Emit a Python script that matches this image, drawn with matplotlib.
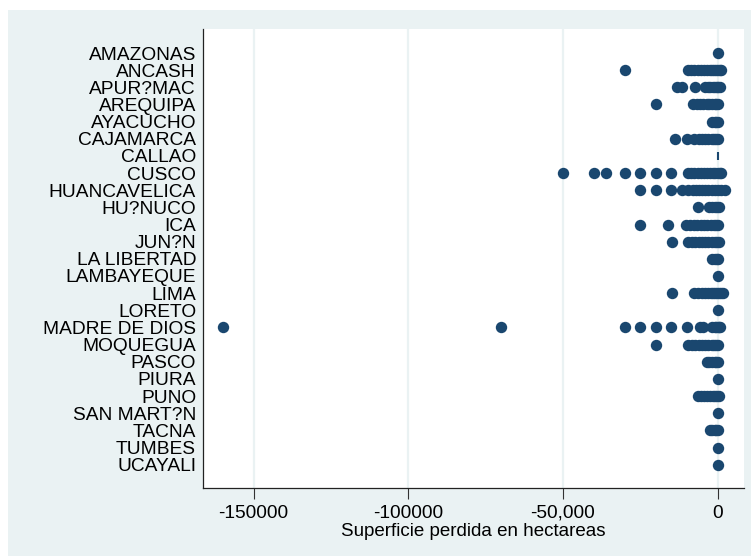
import matplotlib
matplotlib.use("Agg")
import matplotlib.pyplot as plt
from matplotlib.patches import Rectangle

plt.rcParams['font.family'] = ['Liberation Sans', 'DejaVu Sans']

# ----------- data (hectares lost per record) ---------------#
regions = ['AMAZONAS', 'ANCASH', 'APUR?MAC', 'AREQUIPA', 'AYACUCHO', 'CAJAMARCA',
           'CALLAO', 'CUSCO', 'HUANCAVELICA', 'HU?NUCO', 'ICA', 'JUN?N',
           'LA LIBERTAD', 'LAMBAYEQUE', 'LIMA', 'LORETO', 'MADRE DE DIOS',
           'MOQUEGUA', 'PASCO', 'PIURA', 'PUNO', 'SAN MART?N', 'TACNA',
           'TUMBES', 'UCAYALI']

amazonas = [0]
ancash = [-30000, -9500, -8500, -7500, -6500, -5500, -4500, -3500, -2500,
          -1800, -1200, -600, 0, 600, 1200]
apurimac = [-13300, -11400, -7400, -4200, -3200, -2400, -1600, -900, -300, 0, 600]
arequipa = [-20000, -7900, -6800, -5800, -4700, -3600, -2700, -1800, -1000, -400, 0]
ayacucho = [-1900, -1000, -400, 0]
cajamarca = [-13900, -9800, -7600, -6000, -5000, -4000, -3000, -2000, -1200,
             -500, 0]
callao = [0]
cusco = [-50000, -40000, -36000, -30000, -25000, -20000, -15000, -9500, -8500,
         -7500, -6500, -5500, -4500, -3500, -2500, -1500, -800, 0, 600, 1000]
huancavelica = [-25000, -20000, -15000, -11500, -9500, -8000, -7000, -6000,
                -5000, -4000, -3000, -2000, -1000, 0, 1000, 2300]
huanuco = [-6500, -2700, -1800, -1000, -300, 300]
ica = [-25000, -16000, -10300, -9000, -7800, -6600, -5500, -4400, -3300,
       -2300, -1300, -500, 0]
junin = [-14800, -9500, -8300, -7200, -6000, -5000, -4000, -3000, -2000,
         -1000, -300, 300]
la_libertad = [-1700, -900, -300, 0]
lambayeque = [0]
lima = [-14800, -7500, -6300, -5200, -4200, -3200, -2300, -1500, -800, -200,
        400, 1000, 1700]
loreto = [0]
madre_de_dios = [-160000, -70000, -30000, -25000, -20000, -15000, -9800,
                 -5800, -4600, -1900, -1000, -400, 0, 500, 900]
moquegua = [-20000, -9500, -8300, -7200, -6100, -5000, -4000, -3000, -2000,
            -1200, -500, 0]
pasco = [-3600, -2700, -1800, -1000, -400, 0]
piura = [0]
puno = [-6500, -5500, -4500, -3500, -2500, -1600, -800, -200, 400]
san_martin = [0]
tacna = [-2600, -1800, -1000, -400, 0]
tumbes = [0]
ucayali = [0]

values = [amazonas, ancash, apurimac, arequipa, ayacucho, cajamarca, callao,
          cusco, huancavelica, huanuco, ica, junin, la_libertad, lambayeque,
          lima, loreto, madre_de_dios, moquegua, pasco, piura, puno,
          san_martin, tacna, tumbes, ucayali]

xticks = [-150000, -100000, -50000, 0]
xticklabels = ['-150000', '-100000', '-50,000', '0']

# ----------- figure ---------------#
navy = '#1a476f'
bg = '#eaf2f3'

fig = plt.figure(figsize=(7.51, 5.56), dpi=100)
fig.patch.set_facecolor('white')
fig.patches.append(Rectangle((8 / 751, 0), 1 - 8 / 751, 1 - 10 / 556,
                             transform=fig.transFigure, facecolor=bg,
                             edgecolor='none', zorder=-10))

ax = fig.add_axes([203 / 751, 1 - 488 / 556, (744 - 203) / 751, (488 - 29) / 556])
ax.set_facecolor('white')

for i, vals in enumerate(values):
    if regions[i] == 'CALLAO':
        # zero-area record, drawn as a thin tick
        ax.plot(vals, [i] * len(vals), linestyle='none', marker='|',
                markersize=6, markeredgewidth=1.5, color=navy)
    else:
        ax.plot(vals, [i] * len(vals), linestyle='none', marker='o',
                markersize=8.2, color=navy, markeredgewidth=0)

ax.set_xlim(-166350, 8500)
ax.set_ylim(len(regions) - 1 + 1.36, -1.4)

ax.set_yticks(range(len(regions)))
ax.set_yticklabels(regions, fontsize=13.8)
ax.tick_params(axis='y', length=0, pad=5)

ax.set_xticks(xticks)
ax.set_xticklabels(xticklabels, fontsize=13.8)
ax.tick_params(axis='x', length=8, width=0.8, color='#333333', pad=4)
ax.xaxis.grid(True, color=bg, linewidth=1.6)
ax.set_axisbelow(True)
ax.set_xlabel('Superficie perdida en hectareas', fontsize=13.5, labelpad=1)

for side in ['top', 'right']:
    ax.spines[side].set_visible(False)
for side in ['left', 'bottom']:
    ax.spines[side].set_color('#222222')
    ax.spines[side].set_linewidth(0.9)

fig.savefig('out.png', dpi=100, facecolor=fig.get_facecolor())
